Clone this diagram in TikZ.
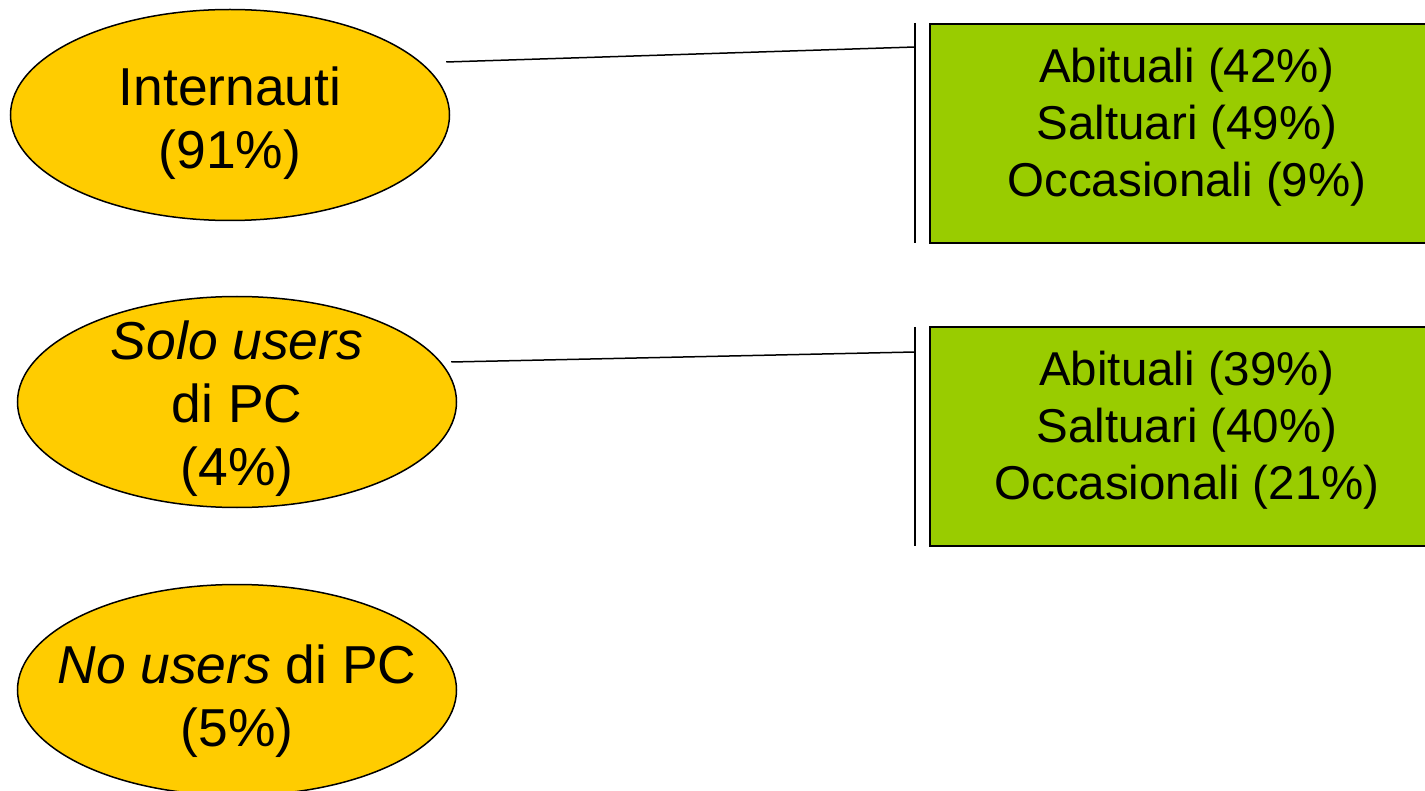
\documentclass[tikz,border=0pt]{standalone}
\usepackage{fontspec}
\setmainfont{Liberation Sans}
\usepackage{xcolor}
\usetikzlibrary{shapes.geometric}
\definecolor{usergold}{HTML}{FFCC00}
\definecolor{habitgreen}{HTML}{99CC00}

\begin{document}
\begin{tikzpicture}[x=0.5pt, y=-0.5pt,
    user/.style={ellipse, draw, line width=0.75pt, fill=usergold,
        minimum width=219.5pt, minimum height=105.5pt, inner sep=0pt},
    usertext/.style={align=center, font=\fontsize{26.7}{31.5}\selectfont},
    habit/.style={draw, line width=1pt, fill=habitgreen,
        minimum width=257pt, minimum height=109.5pt, inner sep=0pt},
    habittext/.style={align=center, font=\fontsize{23.75}{28.5}\selectfont},
    bar/.style={line width=1pt},
    link/.style={line width=0.75pt}]
    \useasboundingbox (0,0) rectangle (1425,791);

    % User groups (left)
    \node[user] (internauti) at (230,115) {};
    \node[usertext] (internautitext) at ([shift={(0,8)}]internauti.center) {Internauti\\(91\%)};
    \node[user] (solousers) at (237,402) {};
    \node[usertext] (solouserstext) at ([shift={(0,7)}]solousers.center) {\textit{Solo users}\\di PC\\(4\%)};
    \node[user] (nousers) at (237,690) {};
    \node[usertext] (nouserstext) at ([shift={(0,11)}]nousers.center) {\textit{No users} di PC\\(5\%)};

    % Frequency boxes (right)
    \node[habit] (habits1) at (1187,133.5) {};
    \node[habittext] (habits1text) at ([shift={(0,-6.5)}]habits1.center) {Abituali (42\%)\\Saltuari (49\%)\\Occasionali (9\%)};
    \node[habit] (habits2) at (1187,436.5) {};
    \node[habittext] (habits2text) at ([shift={(0,-6.5)}]habits2.center) {Abituali (39\%)\\Saltuari (40\%)\\Occasionali (21\%)};

    % Brackets in front of the boxes
    \coordinate (bar1top) at (915,23);
    \coordinate (bar1bot) at (915,243);
    \coordinate (bar1mid) at (915,47);
    \coordinate (bar2top) at (915,327);
    \coordinate (bar2bot) at (915,546);
    \coordinate (bar2mid) at (915,352);
    \draw[bar] (bar1top) -- (bar1bot);
    \draw[bar] (bar2top) -- (bar2bot);

    % Links
    \draw[link] ([shift={(-4,-53)}]internauti.east) -- (bar1mid);
    \draw[link] ([shift={(-6,-40)}]solousers.east) -- (bar2mid);
\end{tikzpicture}
\end{document}
